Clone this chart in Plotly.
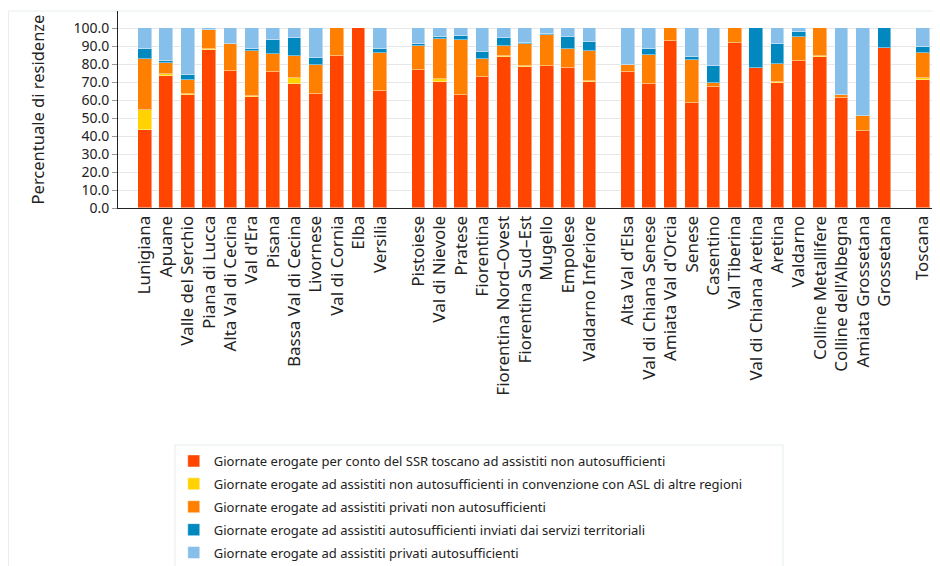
import plotly.graph_objects as go

# Zone-distretto, grouped by area vasta (gaps between groups)
nord_ovest = ["Lunigiana", "Apuane", "Valle del Serchio", "Piana di Lucca",
              "Alta Val di Cecina", "Val d'Era", "Pisana", "Bassa Val di Cecina",
              "Livornese", "Val di Cornia", "Elba", "Versilia"]
centro = ["Pistoiese", "Val di Nievole", "Pratese", "Fiorentina",
          "Fiorentina Nord–Ovest", "Fiorentina Sud–Est", "Mugello", "Empolese",
          "Valdarno Inferiore"]
sud_est = ["Alta Val d'Elsa", "Val di Chiana Senese", "Amiata Val d'Orcia", "Senese",
           "Casentino", "Val Tiberina", "Val di Chiana Aretina", "Aretina", "Valdarno",
           "Colline Metallifere", "Colline dell'Albegna", "Amiata Grossetana",
           "Grossetana"]
regione = ["Toscana"]

ssr_non_auto = [43.2, 73.4, 62.9, 87.9, 76.2, 61.8, 75.8, 69.3, 63.5, 84.7, 100.0, 65.2,
                76.7, 70.0, 62.8, 73.0, 84.2, 78.6, 79.1, 78.0, 70.2,
                75.8, 69.1, 92.9, 58.5, 67.2, 92.0, 78.0, 69.6, 81.8, 84.2, 61.3, 42.8, 89.2,
                71.5]
asl_altre = [11.2, 1.1, 0.4, 0.5, 0.1, 0.4, 0.2, 3.1, 0.1, 0.0, 0.0, 0.1,
             0.2, 2.1, 0.2, 0.1, 0.2, 0.4, 0.1, 0.2, 0.4,
             0.1, 0.2, 0.0, 0.1, 0.2, 0.0, 0.0, 0.6, 0.2, 0.5, 0.0, 0.0, 0.0,
             0.8]
privati_non_auto = [28.5, 6.5, 7.8, 10.6, 15.0, 25.3, 9.7, 12.3, 15.9, 15.3, 0.0, 20.8,
                    13.4, 21.9, 30.5, 9.8, 5.9, 12.6, 17.1, 10.6, 16.7,
                    3.6, 16.0, 7.1, 23.9, 2.4, 8.0, 0.0, 10.1, 13.3, 15.3, 1.5, 8.4, 0.0,
                    14.1]
auto_inviati = [5.4, 0.9, 2.8, 0.3, 0.2, 1.1, 7.8, 10.1, 4.1, 0.0, 0.0, 2.4,
                0.9, 1.3, 2.2, 3.7, 4.1, 0.4, 0.5, 6.5, 5.3,
                0.1, 3.5, 0.0, 1.5, 9.3, 0.0, 22.0, 10.9, 2.5, 0.0, 0.0, 0.0, 10.8,
                3.4]
privati_auto = [11.7, 18.1, 26.1, 0.7, 8.5, 11.4, 6.5, 5.2, 16.4, 0.0, 0.0, 11.5,
                8.8, 4.7, 4.3, 13.4, 5.6, 8.0, 3.2, 4.7, 7.4,
                20.4, 11.2, 0.0, 16.0, 20.9, 0.0, 0.0, 8.8, 2.2, 0.0, 37.2, 48.8, 0.0,
                10.2]

series_names = [
    "Giornate erogate per conto del SSR toscano ad assistiti non autosufficienti",
    "Giornate erogate ad assistiti non autosufficienti in convenzione con ASL di altre regioni",
    "Giornate erogate ad assistiti privati non autosufficienti",
    "Giornate erogate ad assistiti autosufficienti inviati dai servizi territoriali",
    "Giornate erogate ad assistiti privati autosufficienti",
]
series_values = [ssr_non_auto, asl_altre, privati_non_auto, auto_inviati, privati_auto]
colors = ["#FF4500", "#FFD200", "#FF8000", "#0088BF", "#85BFEA"]

# positions: one slot per bar, a narrower empty slot between groups
groups = [nord_ovest, centro, sud_est, regione]
categories, positions = [], []
pos = 0.0
for g in groups:
    for name in g:
        categories.append(name)
        positions.append(pos)
        pos += 1
    pos += 0.8

fig = go.Figure()
for i, (name, vals, col) in enumerate(zip(series_names, series_values, colors)):
    fig.add_trace(go.Bar(
        x=positions, y=vals, name=name, legendgroup=str(i),
        width=0.64,
        marker=dict(color=col, line=dict(color="rgba(255,255,255,0.45)", width=1)),
        text=categories, hovertemplate="%{text}: %{y:.1f}<extra></extra>",
        textposition="none",
    ))

# page body adds an 8px margin, so the figure is a bit smaller than the window
fig.update_layout(
    width=932, height=558,
    barmode="stack",
    bargap=0,
    font=dict(family="Noto Sans", color="#222"),
    plot_bgcolor="white", paper_bgcolor="white",
    margin=dict(l=110, r=2, t=3, b=358, autoexpand=False),
    legend=dict(
        x=0.068, y=-1.208, xanchor="left", yanchor="top",
        traceorder="grouped", tracegroupgap=3,
        font=dict(size=13, color="#222"),
        borderwidth=0, bgcolor="rgba(0,0,0,0)",
    ),
    shapes=[
        # outer frame
        dict(type="rect", xref="paper", yref="paper",
             x0=-0.1335, x1=1.02, y0=-1.9, y1=1.0,
             line=dict(color="#e6eeee", width=1), layer="below"),
        # legend box
        dict(type="rect", xref="paper", yref="paper",
             x0=0.0695, x1=0.811, y0=-1.9, y1=-1.203,
             line=dict(color="#e3ecec", width=1), layer="below"),
    ],
)
fig.update_xaxes(
    tickvals=positions, ticktext=categories, tickangle=-90,
    range=[-1.26, 37.11],
    tickfont=dict(size=17, color="#222"),
    showline=True, linecolor="#222", linewidth=1,
    showgrid=False, ticks="",
)
fig.update_yaxes(
    range=[0, 109.7], dtick=10, tickformat=".1f",
    tickfont=dict(size=14, color="#222"),
    title=dict(text="Percentuale di residenze", font=dict(size=16.5, color="#222"),
               standoff=24),
    showline=True, linecolor="#222", linewidth=1,
    ticks="outside", ticklen=5, tickcolor="#999",
    gridcolor="#e6e6e6", zeroline=False,
)

fig.write_html("out.html")
